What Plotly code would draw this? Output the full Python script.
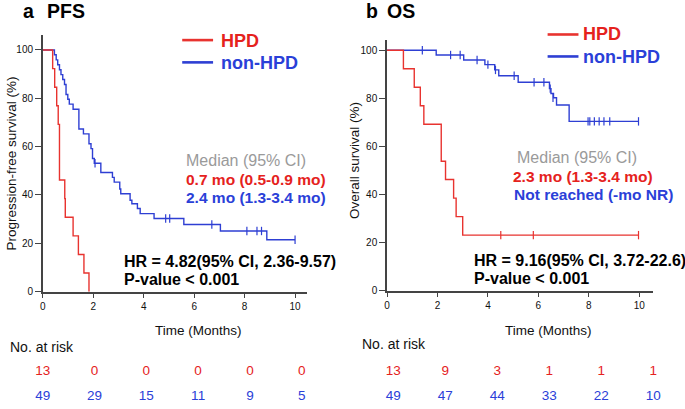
import plotly.graph_objects as go

W, H = 685, 409

# ---------------- data ----------------
risk_times = [0, 2, 4, 6, 8, 10]
x_ticks = [0, 2, 4, 6, 8, 10]
y_ticks = [0, 20, 40, 60, 80, 100]

# PFS - HPD
pfs_hpd_t = [0, 0.39, 0.47, 0.55, 0.61, 0.66, 0.87, 0.89, 1.2, 1.41, 1.63, 1.83]
pfs_hpd_s = [100, 92.3, 84.6, 76.9, 69.2, 46.2, 38.5, 30.8, 23.1, 15.4, 7.7, 0]
# PFS - non-HPD
pfs_non_t = [0, 0.46, 0.53, 0.59, 0.66, 0.72, 0.79, 0.86, 0.92, 0.99, 1.05, 1.2, 1.43, 1.61,
             1.83, 1.91, 1.97, 2.04, 2.3, 2.76, 2.83, 3.05, 3.09, 3.46, 3.53, 3.75, 3.86,
             4.41, 5.59, 7.04, 8.88, 10.0]
pfs_non_s = [100, 98.0, 95.9, 93.9, 91.8, 89.8, 87.8, 85.7, 81.6, 79.6, 77.6, 75.5, 67.3, 65.3,
             61.2, 59.2, 55.1, 53.1, 49.3, 47.3, 45.3, 42.5, 40.5, 37.8, 36.4, 34.4, 32.3,
             30.3, 27.8, 25.1, 21.5, 21.5]
pfs_non_cens_t = [2.07, 4.87, 5.03, 6.7, 8.09, 8.49, 8.67, 10.0]
pfs_non_cens_s = [53.1, 30.3, 30.3, 27.8, 25.1, 25.1, 25.1, 21.5]

# OS - HPD
os_hpd_t = [0, 0.65, 1.08, 1.32, 1.46, 2.15, 2.32, 2.64, 2.74, 3.0, 9.97]
os_hpd_s = [100, 92.3, 84.6, 76.9, 69.2, 53.8, 46.2, 38.5, 30.8, 23.1, 23.1]
os_hpd_cens_t = [4.51, 5.8, 9.97]
os_hpd_cens_s = [23.1, 23.1, 23.1]
# OS - non-HPD
os_non_t = [0, 1.95, 3.04, 3.88, 4.27, 4.43, 5.2, 6.44, 6.5, 6.6, 6.72, 7.22, 9.97]
os_non_s = [100, 98.0, 95.9, 94.0, 91.8, 89.4, 86.7, 84.0, 82.0, 80.2, 77.2, 70.4, 70.4]
os_non_cens_t = [1.4, 2.52, 2.9, 3.57, 4.0, 4.3, 5.04, 5.83, 6.22, 6.47, 6.58,
                 7.97, 8.04, 8.22, 8.41, 8.6, 8.83, 9.97]
os_non_cens_s = [100, 98.0, 98.0, 95.9, 94.0, 91.8, 89.4, 86.7, 86.7, 84.0, 80.2,
                 70.4, 70.4, 70.4, 70.4, 70.4, 70.4, 70.4]

# numbers at risk
pfs_risk_hpd = [13, 0, 0, 0, 0, 0]
pfs_risk_non = [49, 29, 15, 11, 9, 5]
os_risk_hpd = [13, 9, 3, 1, 1, 1]
os_risk_non = [49, 47, 44, 33, 22, 10]

# ---------------- style ----------------
RED_LINE = "#e8332f"
BLUE_LINE = "#2e3fd3"
RED_TXT = "#e5221d"
BLUE_TXT = "#2a40d8"
GRAY_TXT = "#9a9a9a"
AX = "#444444"
FONT = "Arial, Liberation Sans, sans-serif"


def px(x):
    return x / W


def py(y):
    return 1 - y / H


fig = go.Figure()


def km(t, s, xa, ya, color):
    fig.add_trace(go.Scatter(x=t, y=s, mode="lines", line=dict(color=color, width=1.4, shape="hv"),
                             xaxis=xa, yaxis=ya, showlegend=False, hoverinfo="skip"))


def cens(t, s, xa, ya, color):
    fig.add_trace(go.Scatter(x=t, y=s, mode="markers",
                             marker=dict(symbol="line-ns", size=6, line=dict(color=color, width=1.2)),
                             xaxis=xa, yaxis=ya, showlegend=False, hoverinfo="skip", cliponaxis=False))


# panel a
km(pfs_non_t, pfs_non_s, "x", "y", BLUE_LINE)
cens(pfs_non_cens_t, pfs_non_cens_s, "x", "y", BLUE_LINE)
km(pfs_hpd_t, pfs_hpd_s, "x", "y", RED_LINE)
# panel b
km(os_non_t, os_non_s, "x2", "y2", BLUE_LINE)
cens(os_non_cens_t, os_non_cens_s, "x2", "y2", BLUE_LINE)
km(os_hpd_t, os_hpd_s, "x2", "y2", RED_LINE)
cens(os_hpd_cens_t, os_hpd_cens_s, "x2", "y2", RED_LINE)

# risk tables
for vals, row, col, xa, ya in [
    (pfs_risk_hpd, 1, RED_TXT, "x3", "y3"), (pfs_risk_non, 0, BLUE_TXT, "x3", "y3"),
    (os_risk_hpd, 1, RED_TXT, "x4", "y4"), (os_risk_non, 0, BLUE_TXT, "x4", "y4")]:
    fig.add_trace(go.Scatter(x=risk_times, y=[row] * len(vals), mode="text",
                             text=[str(v) for v in vals], textposition="middle center",
                             textfont=dict(color=col, size=13.5, family=FONT), cliponaxis=False,
                             xaxis=xa, yaxis=ya, showlegend=False, hoverinfo="skip"))

axis_common = dict(showgrid=False, zeroline=False, showline=True, linecolor=AX, linewidth=1.6,
                   ticks="outside", tickcolor=AX, tickwidth=1.3,
                   tickfont=dict(size=10, color="#111", family=FONT))

fig.update_layout(
    width=W, height=H, autosize=False,
    margin=dict(l=0, r=0, t=0, b=0, pad=0),
    paper_bgcolor="white", plot_bgcolor="white",
    font=dict(family=FONT),
    xaxis=dict(domain=[px(40), px(305)], range=[0, 10.46], tickvals=x_ticks, ticklen=5,
               anchor="y", **axis_common),
    yaxis=dict(domain=[py(296), py(36)], range=[0, 106], tickvals=y_ticks, ticklen=6,
               anchor="x", **axis_common),
    xaxis2=dict(domain=[px(385.7), px(653)], range=[0, 10.55], tickvals=x_ticks, ticklen=5,
                anchor="y2", **axis_common),
    yaxis2=dict(domain=[py(295), py(40.7)], range=[0, 104.2], tickvals=y_ticks, ticklen=6,
                anchor="x2", **axis_common),
    xaxis3=dict(domain=[px(40), px(300)], range=[0, 10], visible=False, anchor="y3"),
    yaxis3=dict(domain=[0, 50 / H], range=[-0.26, 1.74], visible=False, anchor="x3"),
    xaxis4=dict(domain=[px(392), px(653)], range=[0, 10], visible=False, anchor="y4"),
    yaxis4=dict(domain=[0, 50 / H], range=[-0.26, 1.74], visible=False, anchor="x4"),
)

ann = []


def text(x, y, s, size, color="#000", bold=False, xanchor="left", angle=0):
    ann.append(dict(x=px(x), y=py(y), xref="paper", yref="paper", text=(f"<b>{s}</b>" if bold else s),
                    showarrow=False, xanchor=xanchor, yanchor="middle", textangle=angle,
                    font=dict(size=size, color=color, family=FONT)))


# titles
text(18, 11, "a", 19.5, bold=True)
text(42, 11, "PFS", 19.5, bold=True)
text(363, 11, "b", 19.5, bold=True)
text(384, 11, "OS", 19.5, bold=True)

# legends
shapes = []
for (x0, x1, y, col) in [(180, 211, 40.7, RED_LINE), (180, 211, 63.3, BLUE_LINE),
                         (547, 578, 35, RED_LINE), (547, 578, 57.3, BLUE_LINE)]:
    shapes.append(dict(type="line", xref="paper", yref="paper", x0=px(x0), x1=px(x1),
                       y0=py(y), y1=py(y), line=dict(color=col, width=2.6)))
text(217, 42, "HPD", 18, RED_TXT, bold=True)
text(217, 64, "non-HPD", 18, BLUE_TXT, bold=True)
text(581, 35, "HPD", 18, RED_TXT, bold=True)
text(581, 57.5, "non-HPD", 18, BLUE_TXT, bold=True)

# median texts
text(182, 163, "Median (95% CI)", 16, GRAY_TXT)
text(182, 182.5, "0.7 mo (0.5-0.9 mo)", 15.5, RED_TXT, bold=True)
text(182, 200.5, "2.4 mo (1.3-3.4 mo)", 15.5, BLUE_TXT, bold=True)
text(514, 160, "Median (95% CI)", 16, GRAY_TXT)
text(510, 179.5, "2.3 mo (1.3-3.4 mo)", 15.5, RED_TXT, bold=True)
text(511, 197.5, "Not reached (-mo NR)", 15.5, BLUE_TXT, bold=True)

# HR texts
text(120, 265, "HR = 4.82(95% CI, 2.36-9.57)", 16, bold=True)
text(120, 284, "P-value &lt; 0.001", 16, bold=True)
text(471, 264, "HR = 9.16(95% CI, 3.72-22.6)", 16, bold=True)
text(471, 283, "P-value &lt; 0.001", 16, bold=True)

# axis titles
text(9, 166, "Progression-free survival (%)", 13.5, "#111", xanchor="center", angle=-90)
text(353, 163, "Overall survival (%)", 13.5, "#111", xanchor="center", angle=-90)
text(196, 335, "Time (Months)", 13.5, "#111", xanchor="center")
text(548, 335, "Time (Months)", 13.5, "#111", xanchor="center")

# risk labels
text(5, 352, "No. at risk", 14, "#111")
text(359, 349, "No. at risk", 14, "#111")

fig.update_layout(annotations=ann, shapes=shapes)

fig.write_html("out.html", config={"displayModeBar": False},
               post_script="document.body.style.margin='0';document.body.style.overflow='hidden';")
